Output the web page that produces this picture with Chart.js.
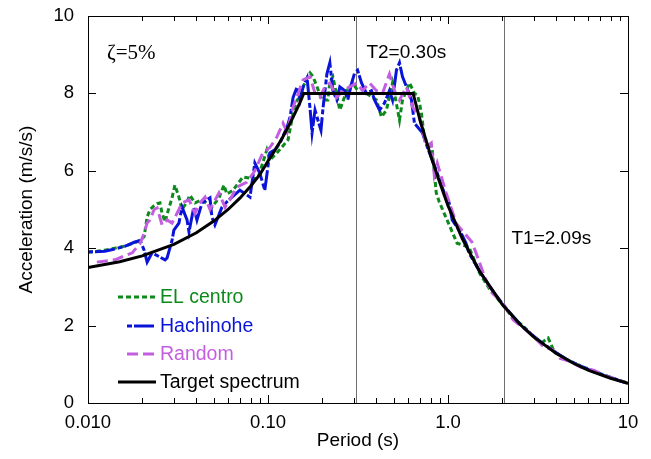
<!DOCTYPE html>
<html>
<head>
<meta charset="utf-8">
<script src="https://cdn.jsdelivr.net/npm/chart.js@4.4.1/dist/chart.umd.min.js"></script>
<style>
  html, body { margin: 0; padding: 0; background: #fff; }
  #wrap { width: 651px; height: 459px; }
</style>
</head>
<body>
<div id="wrap"><canvas id="specChart" width="651" height="459"></canvas></div>
<script>
// target design spectrum
const targetPeriod = [0.01, 0.015, 0.02, 0.03, 0.04, 0.05, 0.06, 0.07, 0.08, 0.09, 0.10, 0.11, 0.12, 0.13, 0.14, 0.15, 0.158,
    0.30, 0.64, 0.70, 0.80, 0.90, 1.0, 1.2, 1.5, 2.0, 2.5, 3.0, 4.0, 5.0, 6.0, 8.0, 10.0];
const targetAccel = [3.50, 3.65, 3.80, 4.10, 4.40, 4.70, 5.00, 5.30, 5.60, 5.90, 6.25, 6.55, 6.85, 7.15, 7.45, 7.75, 8.00,
    8.00, 8.00, 7.30, 6.40, 5.70, 5.10, 4.25, 3.40, 2.55, 2.04, 1.70, 1.28, 1.02, 0.85, 0.64, 0.51];

// EL centro response spectrum
const elPeriod = [0.0100, 0.0112, 0.0124, 0.0141, 0.0160, 0.0176, 0.0195, 0.0205, 0.0213, 0.0221, 0.0233, 0.0242, 0.0251, 0.0258,
    0.0268, 0.0280, 0.0293, 0.0304, 0.0320, 0.0333, 0.0355, 0.0368, 0.0393, 0.0430, 0.0488, 0.0534, 0.0569, 0.0591, 0.0640,
    0.0725, 0.0813, 0.0877, 0.0985, 0.1023, 0.1135, 0.1292, 0.1379, 0.1452, 0.1508, 0.1567, 0.1649, 0.1713, 0.1780, 0.1872,
    0.1994, 0.2151, 0.2206, 0.2293, 0.2506, 0.2739, 0.2954, 0.3226, 0.3524, 0.4006, 0.4271, 0.4549, 0.4917, 0.5376, 0.5589,
    0.6111, 0.6509, 0.6767, 0.6940, 0.7117, 0.7394, 0.8180, 0.8604, 0.8934, 1.123, 1.307,
    1.50, 1.70, 2.00, 2.30, 2.60, 3.00, 3.30, 3.60, 3.90, 4.50, 5.00, 6.00, 7.00, 8.50, 10.0];
const elAccel = [3.90, 3.92, 3.95, 4.00, 4.05, 4.12, 4.20, 4.30, 4.80, 5.00, 5.10, 5.15, 5.17, 4.90,
    4.68, 5.00, 5.30, 5.63, 5.32, 5.00, 5.20, 5.37, 5.17, 5.25, 5.06, 5.30, 5.63, 5.40, 5.50,
    5.84, 5.80, 5.80, 6.54, 6.28, 6.49, 6.80, 7.49, 7.83, 7.90, 8.17, 8.40, 8.53, 8.43, 8.17,
    7.83, 7.83, 8.30, 8.43, 7.57, 8.07, 8.27, 8.00, 8.00, 7.83, 7.39, 7.57, 8.27, 7.31, 7.83,
    8.27, 8.00, 7.96, 7.75, 7.49, 6.85, 6.54, 5.43, 5.20, 4.13, 4.03,
    3.35, 2.95, 2.55, 2.20, 2.00, 1.70, 1.55, 1.68, 1.32, 1.14, 1.03, 0.88, 0.76, 0.62, 0.52];

// Hachinohe response spectrum
const hachPeriod = [0.0100, 0.0124, 0.0141, 0.0160, 0.0182, 0.0195, 0.0205, 0.0213, 0.0227, 0.0251, 0.0268, 0.0275, 0.0293,
    0.0300, 0.0320, 0.0333, 0.0355, 0.0364, 0.0387, 0.0403, 0.0430, 0.0476, 0.0488, 0.0507, 0.0555, 0.0591, 0.0698, 0.0794,
    0.0845, 0.0900, 0.0960, 0.1023, 0.1091, 0.1166, 0.1277, 0.1326, 0.1379, 0.1452, 0.1508, 0.1567, 0.1649, 0.1713, 0.1757,
    0.1825, 0.1896, 0.1969, 0.2019, 0.2124, 0.2206, 0.2293, 0.2413, 0.2506, 0.2671, 0.2774, 0.2917, 0.3029, 0.3146, 0.3309,
    0.3524, 0.3757, 0.3906, 0.4165, 0.4436, 0.4729, 0.4917, 0.5171, 0.5376, 0.5589, 0.5878, 0.6267, 0.6509, 0.7207, 0.7680,
    0.8712, 0.9525, 1.015, 1.055, 1.182, 1.258, 1.307, 1.50, 1.80, 2.10, 2.50, 2.90, 3.40, 4.00, 4.60, 5.50, 6.50, 8.00, 10.0];
const hachAccel = [3.90, 3.92, 3.98, 4.05, 4.16, 4.20, 3.95, 3.64, 3.88, 3.77, 3.70, 3.75, 4.20,
    4.47, 4.65, 5.06, 4.73, 4.42, 5.06, 4.73, 5.17, 5.30, 4.80, 4.60, 5.06, 5.20, 5.50, 5.32,
    6.20, 5.94, 5.50, 6.46, 6.54, 6.72, 7.13, 7.39, 7.90, 8.17, 7.83, 8.17, 8.40, 7.60, 6.98,
    7.57, 7.30, 7.05, 7.60, 8.50, 8.79, 8.07, 7.83, 8.17, 8.07, 7.83, 8.27, 8.53, 8.60, 8.27,
    8.00, 8.07, 7.83, 7.57, 7.75, 8.07, 7.83, 8.60, 8.79, 8.43, 8.17, 7.83, 7.23, 6.98, 6.61,
    5.94, 5.43, 5.17, 4.73, 4.39, 4.13, 3.88, 3.40, 2.85, 2.45, 2.05, 1.78, 1.52, 1.30, 1.12, 0.95, 0.80, 0.66, 0.50];

// Random (artificial) response spectrum
const randPeriod = [0.0112, 0.0141, 0.0176, 0.0195, 0.0205, 0.0213, 0.0221, 0.0233, 0.0242, 0.0258, 0.0275, 0.0293, 0.0320,
    0.0333, 0.0364, 0.0393, 0.0419, 0.0447, 0.0476, 0.0534, 0.0577, 0.0615, 0.0671, 0.0760, 0.0845, 0.0935, 0.1023, 0.1120,
    0.1212, 0.1277, 0.1379, 0.1471, 0.1567, 0.1713, 0.1825, 0.1944, 0.2071, 0.2206, 0.2413, 0.2604, 0.2844, 0.3107, 0.3351,
    0.3664, 0.4006, 0.4325, 0.4729, 0.5042, 0.5376, 0.5878, 0.6267, 0.6346, 0.6940, 0.7582, 0.8077, 0.8390, 0.8712, 0.9768,
    1.109, 1.152, 1.358, 1.447, 1.60, 1.75, 2.00, 2.30, 2.60, 3.00, 3.40, 3.80, 4.20, 4.80, 5.50, 6.50, 7.50, 8.50, 10.0];
const randAccel = [3.64, 3.70, 3.88, 4.13, 4.39, 4.65, 4.73, 5.00, 5.04, 4.60, 4.73, 4.65, 5.00,
    5.17, 5.25, 4.90, 5.17, 5.32, 5.00, 5.43, 5.06, 5.25, 5.58, 5.70, 6.00, 6.46, 6.60, 6.87,
    7.23, 7.00, 7.65, 8.00, 8.35, 8.43, 8.00, 7.90, 8.17, 8.27, 7.90, 8.07, 8.17, 8.27, 8.07,
    8.27, 8.07, 8.00, 8.50, 8.07, 7.83, 8.17, 7.75, 7.65, 7.39, 6.61, 6.72, 5.90, 6.20, 5.43,
    4.65, 4.55, 4.16, 3.82, 3.25, 2.85, 2.60, 2.15, 1.95, 1.72, 1.45, 1.38, 1.15, 1.07, 0.92, 0.84, 0.70, 0.62, 0.50];

// axis ticks and marked periods
const xTickValues = [0.01, 0.1, 1, 10];
const xTickLabels = ['0.010', '0.10', '1.0', '10'];
const yTickValues = [0, 2, 4, 6, 8, 10];
const markPeriods = [0.31, 2.06];
const markLabels = ['T2=0.30s', 'T1=2.09s'];

const FONT = 'Liberation Sans, Arial, sans-serif';
const toXY = (xs, ys) => xs.map((x, i) => ({ x: x, y: ys[i] }));

const series = [
    { label: 'Target spectrum', data: toXY(targetPeriod, targetAccel), color: '#000000', dash: [], width: 3 },
    { label: 'Random', data: toXY(randPeriod, randAccel), color: '#c45ee0', dash: [11, 5], width: 3 },
    { label: 'Hachinohe', data: toXY(hachPeriod, hachAccel), color: '#0a14d8', dash: [5, 2, 20, 3], width: 3 },
    { label: 'EL centro', data: toXY(elPeriod, elAccel), color: '#0d8a1c', dash: [5, 3], width: 3 }
];

const decor = {
    id: 'decor',
    beforeDatasetsDraw(chart) {
        const { ctx, chartArea: a, scales: { x } } = chart;
        ctx.save();
        ctx.strokeStyle = '#707070';
        ctx.lineWidth = 1;
        markPeriods.forEach(p => {
            const px = Math.round(x.getPixelForValue(p)) + 0.5;
            ctx.beginPath();
            ctx.moveTo(px, a.top);
            ctx.lineTo(px, a.bottom);
            ctx.stroke();
        });
        ctx.restore();
    },
    afterDraw(chart) {
        const { ctx, chartArea: a, scales: { x, y } } = chart;
        ctx.save();

        // frame
        ctx.strokeStyle = '#000';
        ctx.lineWidth = 1;
        ctx.strokeRect(Math.round(a.left) + 0.5, Math.round(a.top) + 0.5,
            Math.round(a.right - a.left), Math.round(a.bottom - a.top));

        // inward ticks, bottom and top
        ctx.beginPath();
        [0.01, 0.1, 1].forEach(d => {
            for (let k = 1; k <= 10; k++) {
                const px = Math.round(x.getPixelForValue(k * d)) + 0.5;
                const len = (k === 1 || k === 10) ? 8 : 5;
                ctx.moveTo(px, a.bottom); ctx.lineTo(px, a.bottom - len);
                ctx.moveTo(px, a.top); ctx.lineTo(px, a.top + len);
            }
        });
        // inward ticks, left and right
        yTickValues.forEach(v => {
            const py = Math.round(y.getPixelForValue(v)) + 0.5;
            ctx.moveTo(a.left, py); ctx.lineTo(a.left + 8, py);
            ctx.moveTo(a.right, py); ctx.lineTo(a.right - 8, py);
        });
        ctx.stroke();

        // annotations
        ctx.fillStyle = '#000';
        ctx.textBaseline = 'alphabetic';
        ctx.textAlign = 'left';
        ctx.font = '21px "Liberation Serif", "Times New Roman", serif';
        ctx.fillText('\u03b6=5%', a.left + 19, a.top + 43);
        ctx.font = '19px ' + FONT;
        ctx.fillText(markLabels[0], x.getPixelForValue(markPeriods[0]) + 10, a.top + 42);
        ctx.fillText(markLabels[1], x.getPixelForValue(markPeriods[1]) + 7, y.getPixelForValue(4.1));

        // legend
        const legendOrder = [3, 2, 1, 0];
        const rows = [297, 326, 354, 382];
        const starts = [118, 127, 127, 118];
        ctx.textBaseline = 'middle';
        ctx.font = '19.5px ' + FONT;
        legendOrder.forEach((idx, i) => {
            const s = series[idx];
            ctx.strokeStyle = s.color;
            ctx.lineWidth = s.width;
            ctx.setLineDash(s.dash);
            ctx.beginPath();
            ctx.moveTo(starts[i], rows[i]);
            ctx.lineTo(156, rows[i]);
            ctx.stroke();
            ctx.setLineDash([]);
            ctx.fillStyle = s.color;
            ctx.fillText(s.label, 160, rows[i] + 1);
        });
        ctx.restore();
    }
};

const chart = new Chart(document.getElementById('specChart'), {
    type: 'line',
    data: {
        datasets: series.map(s => ({
            label: s.label,
            data: s.data,
            borderColor: s.color,
            borderWidth: s.width,
            borderDash: s.dash,
            borderCapStyle: 'butt',
            pointRadius: 0,
            tension: 0,
            fill: false
        }))
    },
    options: {
        responsive: false,
        animation: false,
        events: [],
        layout: { padding: { left: 0, top: 16, right: 23, bottom: 0 } },
        plugins: { legend: { display: false }, tooltip: { enabled: false } },
        scales: {
            x: {
                type: 'logarithmic',
                min: 0.01,
                max: 10,
                grid: { display: false, drawTicks: false },
                border: { display: false },
                afterBuildTicks: scale => { scale.ticks = xTickValues.map(v => ({ value: v, major: true })); },
                afterFit: scale => {
                    scale.height = 56;
                    scale.paddingLeft = 0;
                    scale.paddingRight = 0;
                },
                ticks: {
                    color: '#000',
                    padding: 9,
                    maxRotation: 0,
                    autoSkip: false,
                    font: { family: FONT, size: 18.5 },
                    callback: v => {
                        const i = xTickValues.indexOf(v);
                        return i >= 0 ? xTickLabels[i] : '';
                    }
                },
                title: {
                    display: true,
                    text: 'Period (s)',
                    color: '#000',
                    font: { family: FONT, size: 19 },
                    padding: { top: 0, bottom: 7 }
                }
            },
            y: {
                min: 0,
                max: 10,
                grid: { display: false, drawTicks: false },
                border: { display: false },
                afterBuildTicks: scale => { scale.ticks = yTickValues.map(v => ({ value: v })); },
                afterFit: scale => {
                    scale.width = 88;
                    scale.paddingTop = 0;
                    scale.paddingBottom = 0;
                },
                ticks: {
                    color: '#000',
                    padding: 14,
                    font: { family: FONT, size: 18.5 }
                },
                title: {
                    display: true,
                    text: 'Acceleration (m/s/s)',
                    color: '#000',
                    font: { family: FONT, size: 19 },
                    padding: { top: 15, bottom: 0 }
                }
            }
        }
    },
    plugins: [decor]
});
</script>
</body>
</html>
